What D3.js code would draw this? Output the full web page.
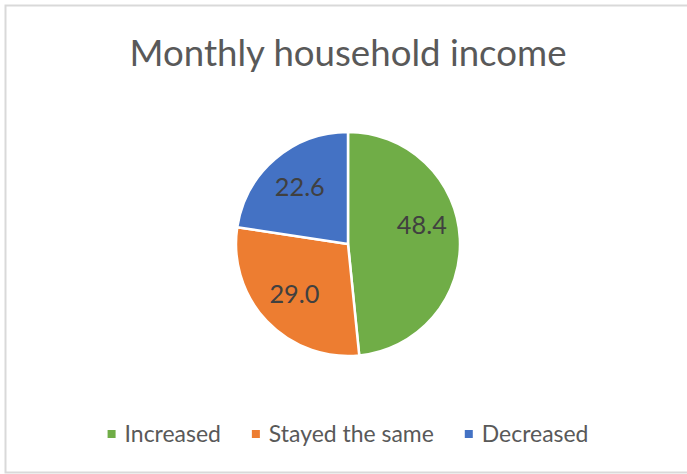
<!DOCTYPE html>
<html>
<head>
<meta charset="utf-8">
<script src="https://cdnjs.cloudflare.com/ajax/libs/d3/7.8.5/d3.min.js"></script>
<style>
  body { margin: 0; background: #fff; }
  text { font-family: Lato, "Open Sans", sans-serif; }
</style>
</head>
<body>
<div id="chart"></div>
<script>
// data
var categories = ['Increased', 'Stayed the same', 'Decreased'];
var values = [48.4, 29.0, 22.6];
var colors = ['#70ad47', '#ed7d31', '#4472c4'];
var title = 'Monthly household income';

var width = 687,
    height = 474,
    cx = 348,
    cy = 244,
    radius = 112;

var svg = d3.select('#chart').append('svg')
  .attr('width', width)
  .attr('height', height);

// chart frame (only left, top, bottom visible)
svg.append('path')
  .attr('d', 'M' + (width + 5) + ',5.5 H5.5 V472.5 H' + (width + 5))
  .attr('fill', 'none')
  .attr('stroke', '#d9d9d9')
  .attr('stroke-width', 2);

// shrink/grow the font until the text has the wanted width
function fitText(sel, target) {
  var fs = parseFloat(sel.style('font-size'));
  var w = sel.node().getComputedTextLength();
  sel.style('font-size', (fs * target / w) + 'px');
  return fs * target / w;
}

var titleText = svg.append('text')
  .attr('x', cx)
  .attr('y', 66)
  .attr('text-anchor', 'middle')
  .style('font-size', '36px')
  .style('fill', '#595959')
  .text(title);
fitText(titleText, 437);

var pie = d3.pie().sort(null).value(function(d) { return d; });
var arc = d3.arc().innerRadius(0).outerRadius(radius);
var labelArc = d3.arc().innerRadius(radius * 0.66).outerRadius(radius * 0.66);

var g = svg.append('g').attr('transform', 'translate(' + cx + ',' + cy + ')');
var slices = pie(values);

g.selectAll('path')
  .data(slices)
  .enter()
  .append('path')
  .attr('d', arc)
  .attr('fill', function(d, i) { return colors[i]; })
  .attr('stroke', '#fff')
  .attr('stroke-width', 2.5)
  .attr('stroke-linejoin', 'round');

var labels = g.selectAll('text.lbl')
  .data(slices)
  .enter()
  .append('text')
  .attr('class', 'lbl')
  .attr('transform', function(d) { return 'translate(' + labelArc.centroid(d) + ')'; })
  .attr('text-anchor', 'middle')
  .attr('dy', function(d, i) { return i === 0 ? '-0.25em' : '0.3em'; })
  .style('font-size', '20px')
  .style('fill', '#404040')
  .text(function(d) { return d.value.toFixed(1); });
var lblSize = fitText(d3.select(labels.nodes()[0]), 50);
labels.style('font-size', lblSize + 'px');

// legend
var legend = svg.append('g');
var items = legend.selectAll('g')
  .data(categories)
  .enter()
  .append('g');
items.append('rect')
  .attr('width', 8)
  .attr('height', 8)
  .attr('y', -12)
  .attr('fill', function(d, i) { return colors[i]; });
var legText = items.append('text')
  .attr('x', 17)
  .style('font-size', '18px')
  .style('fill', '#595959')
  .text(function(d) { return d; });
var legSize = fitText(d3.select(legText.nodes()[1]), 165);
legText.style('font-size', legSize + 'px');

var gap = 31;
var x = 0;
items.each(function() {
  d3.select(this).attr('transform', 'translate(' + x + ',0)');
  x += this.getBBox().width + gap;
});
x -= gap;
legend.attr('transform', 'translate(' + (cx - x / 2) + ',442)');
</script>
</body>
</html>
